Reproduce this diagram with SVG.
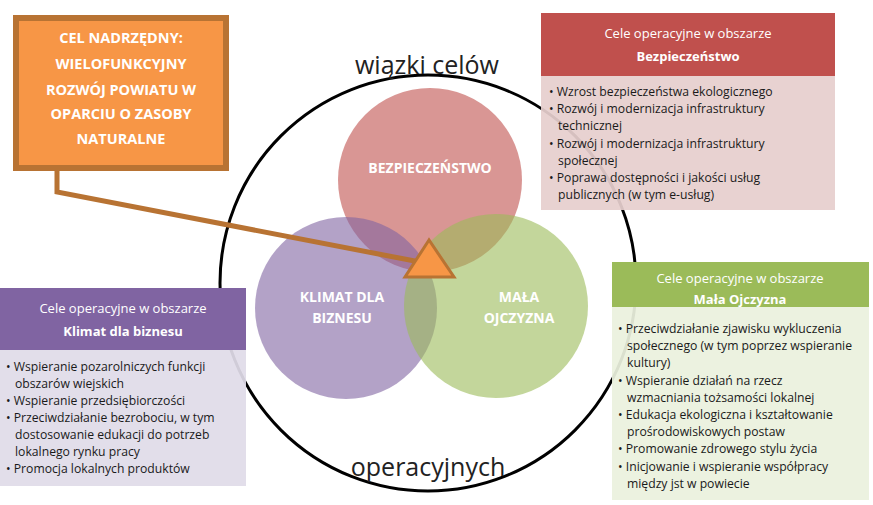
<svg xmlns="http://www.w3.org/2000/svg" width="873" height="505" viewBox="0 0 873 505">
<style>
text{font-family:"Open Sans","Liberation Sans",sans-serif}
.h{fill:#fff;font-size:13px;text-anchor:middle}
.b{font-weight:bold}
.t{fill:#1a1a1a;font-size:12.2px}
.v{fill:#fff;font-size:14px;font-weight:bold;text-anchor:middle}
.o{fill:#fff;font-size:14.5px;font-weight:bold;text-anchor:middle}
</style>
<rect width="873" height="505" fill="#fff"/>
<g id="ring">
<circle cx="428" cy="283" r="208" fill="none" stroke="#000" stroke-width="3"/>
<text x="427" y="74" font-size="25" text-anchor="middle" fill="#222">wiązki celów</text>
<text x="428" y="476" font-size="25" text-anchor="middle" fill="#222">operacyjnych</text>
</g>
<g id="venn">
<circle cx="430" cy="180" r="92" fill="#C0504D" fill-opacity="0.6"/>
<circle cx="346" cy="308" r="91" fill="#8064A2" fill-opacity="0.6"/>
<circle cx="496" cy="306" r="92" fill="#9BBB59" fill-opacity="0.6"/>
<text class="v" x="430" y="173">BEZPIECZEŃSTWO</text>
<text class="v" x="342" y="302">KLIMAT DLA</text>
<text class="v" x="342" y="323">BIZNESU</text>
<text class="v" x="519" y="302">MAŁA</text>
<text class="v" x="519" y="323">OJCZYZNA</text>
</g>
<g id="connectors">
<polyline points="57,168 57,192 420,262" fill="none" stroke="#B87333" stroke-width="5"/>
</g>
<g id="triangle">
<polygon points="429,240 405,277 454,277" fill="#F79646" stroke="#B87333" stroke-width="3"/>
</g>
<g id="cel">
<rect x="16" y="18" width="210" height="150" fill="#F79646" stroke="#B87333" stroke-width="6"/>
<text class="o" x="121" y="43" font-weight="normal">CEL NADRZĘDNY:</text>
<text class="o" x="121" y="69">WIELOFUNKCYJNY</text>
<text class="o" x="121" y="95">ROZWÓJ POWIATU W</text>
<text class="o" x="121" y="119">OPARCIU O ZASOBY</text>
<text class="o" x="121" y="144">NATURALNE</text>
</g>
<g id="bezp">
<rect x="541" y="76" width="294" height="134" fill="#E6CFCE" fill-opacity="0.93"/>
<rect x="541" y="13" width="294" height="63" fill="#C0504D"/>
<text class="h" x="688" y="38">Cele operacyjne w obszarze</text>
<text class="h b" x="688" y="61">Bezpieczeństwo</text>
<text class="t" x="549" y="96">• Wzrost bezpieczeństwa ekologicznego</text>
<text class="t" x="549" y="113">• Rozwój i modernizacja infrastruktury</text>
<text class="t" x="558" y="130">technicznej</text>
<text class="t" x="549" y="148">• Rozwój i modernizacja infrastruktury</text>
<text class="t" x="558" y="165">społecznej</text>
<text class="t" x="549" y="182">• Poprawa dostępności i jakości usług</text>
<text class="t" x="558" y="199">publicznych (w tym e-usług)</text>
</g>
<g id="mala">
<rect x="612" y="307" width="257" height="193" fill="#EBF1DE" fill-opacity="0.93"/>
<rect x="612" y="262" width="257" height="45" fill="#9BBB59"/>
<text class="h" x="740" y="283">Cele operacyjne w obszarze</text>
<text class="h b" x="740" y="304">Mała Ojczyzna</text>
<text class="t" x="618" y="333">• Przeciwdziałanie zjawisku wykluczenia</text>
<text class="t" x="627" y="350">społecznego (w tym poprzez wspieranie</text>
<text class="t" x="627" y="367">kultury)</text>
<text class="t" x="618" y="385">• Wspieranie działań na rzecz</text>
<text class="t" x="627" y="402">wzmacniania tożsamości lokalnej</text>
<text class="t" x="618" y="419">• Edukacja ekologiczna i kształtowanie</text>
<text class="t" x="627" y="436">prośrodowiskowych postaw</text>
<text class="t" x="618" y="453">• Promowanie zdrowego stylu życia</text>
<text class="t" x="618" y="471">• Inicjowanie i wspieranie współpracy</text>
<text class="t" x="627" y="488">między jst w powiecie</text>
</g>
<g id="klimat">
<rect x="0" y="350" width="246" height="136" fill="#E0DBE8" fill-opacity="0.93"/>
<rect x="0" y="288" width="246" height="62" fill="#8064A2"/>
<text class="h" x="123" y="313">Cele operacyjne w obszarze</text>
<text class="h b" x="123" y="336">Klimat dla biznesu</text>
<text class="t" x="6" y="371">• Wspieranie pozarolniczych funkcji</text>
<text class="t" x="15" y="388">obszarów wiejskich</text>
<text class="t" x="6" y="405">• Wspieranie przedsiębiorczości</text>
<text class="t" x="6" y="422">• Przeciwdziałanie bezrobociu, w tym</text>
<text class="t" x="15" y="439">dostosowanie edukacji do potrzeb</text>
<text class="t" x="15" y="456">lokalnego rynku pracy</text>
<text class="t" x="6" y="473">• Promocja lokalnych produktów</text>
</g>
</svg>
